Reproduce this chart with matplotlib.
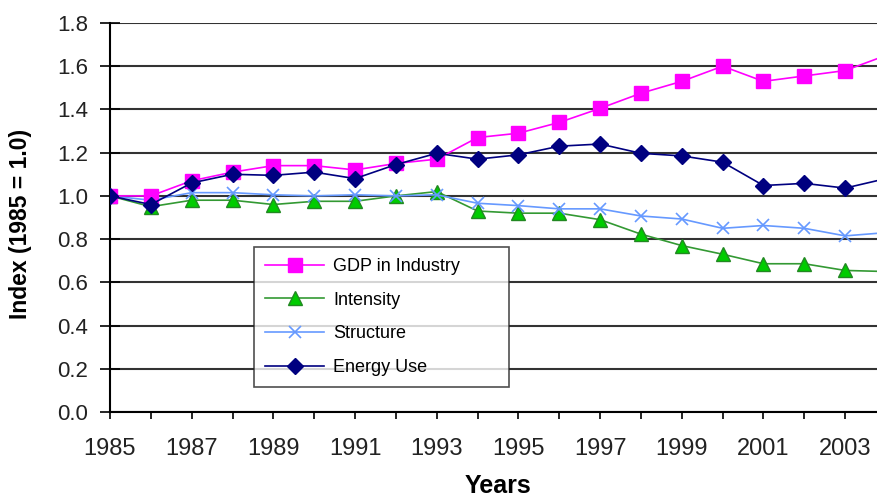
import matplotlib
matplotlib.use("Agg")
import matplotlib.pyplot as plt

years = list(range(1985, 2005))
gdp = [1.00, 1.00, 1.07, 1.11, 1.14, 1.14, 1.12, 1.15, 1.17, 1.27,
       1.29, 1.34, 1.405, 1.475, 1.53, 1.60, 1.53, 1.555, 1.58, 1.65]
intensity = [1.00, 0.95, 0.98, 0.98, 0.96, 0.975, 0.975, 1.00, 1.02, 0.93,
             0.92, 0.92, 0.89, 0.823, 0.77, 0.73, 0.686, 0.686, 0.655, 0.65]
structure = [1.00, 0.98, 1.015, 1.015, 1.005, 1.00, 1.005, 1.00, 1.005, 0.966,
             0.955, 0.94, 0.94, 0.907, 0.893, 0.85, 0.863, 0.85, 0.815, 0.83]
energy = [1.00, 0.96, 1.06, 1.10, 1.095, 1.11, 1.08, 1.145, 1.197, 1.17,
          1.19, 1.23, 1.24, 1.197, 1.185, 1.156, 1.048, 1.058, 1.036, 1.08]
series_names = ["GDP in Industry", "Intensity", "Structure", "Energy Use"]
x_tick_labels = [str(y) if (y - 1985) % 2 == 0 else "" for y in years]
y_ticks = [0.0, 0.2, 0.4, 0.6, 0.8, 1.0, 1.2, 1.4, 1.6, 1.8]

plt.rcParams['font.family'] = ['Liberation Sans', 'DejaVu Sans']

fig = plt.figure(figsize=(8.78, 4.99), dpi=100)
ax = fig.add_axes([110/878, 87/499, 776/878, 389/499])

ax.plot(years, gdp, color='#FF00FF', lw=1.2, marker='s', ms=10,
        mfc='#FF00FF', mec='#FF00FF', label=series_names[0], zorder=4)
ax.plot(years, intensity, color='#339933', lw=1.2, marker='^', ms=10,
        mfc='#00CC00', mec='#228822', label=series_names[1], zorder=3)
ax.plot(years, structure, color='#6699FF', lw=1.2, marker='x', ms=9,
        mew=1.2, mec='#6699FF', label=series_names[2], zorder=3)
ax.plot(years, energy, color='#000080', lw=1.2, marker='D', ms=8,
        mfc='#000080', mec='#000080', label=series_names[3], zorder=5)

ax.set_xlim(1985, 2004)
ax.set_ylim(0, 1.8)
ax.set_yticks(y_ticks)
ax.set_yticklabels([f"{v:.1f}" for v in y_ticks], fontsize=16, color='#222222')
ax.set_xticks(years)
ax.set_xticklabels(x_tick_labels, fontsize=17, color='#222222')

ax.yaxis.grid(True, color='#333333', lw=1.5)
ax.set_axisbelow(True)
for s in ['top', 'right']:
    ax.spines[s].set_visible(False)
ax.spines['left'].set_linewidth(1.5)
ax.spines['bottom'].set_linewidth(1.5)
ax.tick_params(axis='y', direction='inout', length=14, width=1.2, pad=9)
ax.tick_params(axis='x', direction='out', length=5, width=1.2, pad=14)

ax.set_ylabel("Index (1985 = 1.0)", fontsize=16.5, fontweight='bold')
ax.yaxis.set_label_coords(-0.1005, 0.483)
ax.set_xlabel("Years", fontsize=18, fontweight='bold', labelpad=10)

leg = ax.legend(loc='lower left', bbox_to_anchor=(0.1856, 0.064, 0.3286, 0.357),
                mode='expand', borderaxespad=0, fontsize=13, frameon=True,
                fancybox=False, edgecolor='#222222', handlelength=3.3,
                labelspacing=0.93, borderpad=0.6, handletextpad=0.5)
leg.get_frame().set_linewidth(1.2)
leg.set_zorder(10)

fig.savefig("out.png", dpi=100)
